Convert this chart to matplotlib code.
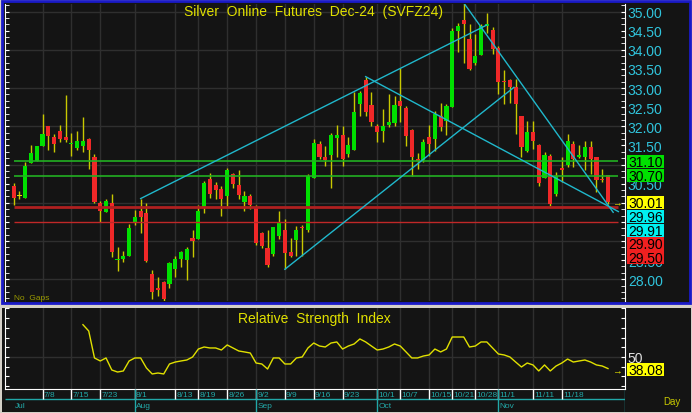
import matplotlib
matplotlib.use("Agg")
import matplotlib.pyplot as plt
from matplotlib.patches import Rectangle
from matplotlib.ticker import MultipleLocator
import numpy as np

plt.rcParams['font.family'] = ['Liberation Sans', 'DejaVu Sans']

W, H = 692, 414

# daily OHLC, Silver Dec-24
opens = [30.44, 30.18, 30.13, 31.04, 31.10, 31.48, 32.01, 31.73, 31.87, 31.71,
         31.53, 31.44, 31.48, 31.67, 31.21, 29.99, 29.75, 29.99, 28.49, 28.53,
         28.61, 29.50, 29.78, 29.73, 28.13, 27.78, 27.93, 27.87, 28.26, 28.53,
         28.50, 29.09, 29.05, 29.85, 30.62, 30.46, 30.36, 30.18, 30.75, 30.46,
         30.03, 30.18, 29.90, 29.21, 28.82, 28.66, 29.14, 29.30, 28.70, 29.02,
         29.37, 29.29, 30.64, 31.54, 31.21, 31.25, 31.70, 31.77, 31.28, 31.39,
         32.58, 33.21, 32.56, 32.02, 31.88, 32.03, 32.09, 32.66, 32.49, 31.90,
         31.14, 31.13, 31.71, 31.67, 32.28, 32.15, 32.50, 34.50, 34.78, 34.29,
         33.66, 33.87, 34.63, 34.52, 34.05, 33.19, 33.22, 33.02, 32.26, 31.36,
         31.86, 31.52, 30.65, 31.23, 30.23, 30.91, 30.99, 31.54, 31.21, 31.19,
         31.45, 31.21, 30.62, 30.73]
highs = [30.52, 30.31, 31.06, 31.51, 31.48, 32.32, 32.01, 31.80, 32.04, 32.82,
         31.82, 31.88, 32.24, 31.69, 31.27, 30.04, 30.10, 30.23, 28.83, 28.74,
         29.44, 29.82, 30.11, 29.99, 28.25, 28.05, 27.96, 28.45, 28.60, 28.74,
         28.83, 29.29, 29.95, 30.58, 30.77, 30.55, 30.44, 30.90, 30.78, 30.86,
         30.31, 30.24, 29.95, 29.24, 29.29, 29.36, 29.79, 29.57, 29.08, 29.40,
         29.42, 30.74, 31.67, 31.62, 31.49, 31.82, 32.03, 32.02, 31.73, 32.89,
         32.93, 33.30, 32.91, 32.05, 32.45, 32.85, 32.80, 33.53, 32.52, 31.93,
         31.30, 31.67, 32.03, 32.39, 32.61, 32.58, 34.57, 34.70, 35.23, 34.68,
         34.42, 34.68, 34.96, 34.61, 34.11, 33.48, 33.24, 33.24, 32.28, 32.13,
         32.13, 31.54, 31.32, 31.28, 30.81, 31.19, 31.80, 31.62, 31.51, 31.62,
         31.62, 31.21, 30.88, 30.73]
lows = [29.95, 30.10, 30.13, 31.04, 31.10, 31.48, 31.39, 31.33, 31.58, 31.58,
        31.23, 31.39, 31.32, 30.88, 29.99, 29.49, 29.75, 28.57, 28.22, 28.44,
        28.61, 29.42, 29.20, 28.44, 27.48, 27.57, 27.40, 27.78, 28.07, 28.31,
        27.98, 28.57, 29.05, 29.72, 30.12, 30.10, 29.66, 29.92, 30.38, 30.10,
        29.79, 29.84, 28.89, 28.81, 28.31, 28.61, 29.05, 28.26, 28.57, 28.61,
        28.61, 29.24, 30.64, 31.14, 30.97, 30.38, 31.19, 30.97, 31.19, 31.39,
        32.26, 32.26, 32.02, 31.58, 31.58, 31.97, 32.00, 32.10, 31.49, 30.71,
        30.88, 31.06, 31.23, 31.36, 31.88, 31.77, 32.50, 33.94, 33.66, 33.48,
        33.60, 33.87, 34.44, 33.89, 32.85, 32.59, 32.61, 31.80, 31.19, 31.32,
        31.41, 30.43, 30.65, 29.92, 30.18, 30.55, 30.93, 30.93, 31.16, 30.86,
        30.75, 30.27, 30.55, 29.96]
closes = [30.13, 30.18, 30.97, 31.30, 31.48, 31.79, 31.75, 31.54, 31.67, 31.64,
          31.54, 31.62, 31.62, 31.39, 30.03, 29.79, 30.04, 28.70, 28.53, 28.60,
          29.35, 29.63, 29.63, 28.48, 27.67, 27.72, 27.47, 28.42, 28.53, 28.72,
          28.79, 29.01, 29.78, 30.51, 30.23, 30.34, 30.10, 30.86, 30.49, 30.20,
          30.18, 29.95, 28.94, 28.86, 28.37, 29.36, 29.46, 28.68, 28.61, 29.29,
          29.33, 30.71, 31.56, 31.19, 31.13, 31.77, 31.77, 31.14, 31.51, 32.37,
          32.86, 32.37, 32.10, 31.84, 32.02, 32.10, 32.56, 32.52, 31.75, 31.19,
          31.10, 31.58, 31.54, 32.32, 31.97, 32.52, 34.50, 34.62, 34.68, 33.50,
          33.83, 34.62, 34.68, 34.01, 33.17, 33.15, 33.02, 32.58, 31.45, 31.86,
          31.61, 30.53, 31.26, 29.97, 30.69, 30.86, 31.62, 31.14, 31.26, 31.47,
          31.14, 30.60, 30.60, 30.01]

# RSI(14), first value drawn at bar 12
rsi_start = 12
rsi = [83.3, 76.8, 49.0, 45.9, 49.0, 36.6, 34.5, 35.6, 45.9, 49.0,
       49.0, 38.7, 32.5, 33.5, 32.5, 42.8, 44.8, 45.9, 46.9, 50.0,
       58.2, 60.3, 59.3, 59.3, 57.2, 62.4, 59.3, 56.2, 55.2, 54.1,
       43.8, 42.8, 37.6, 49.0, 49.0, 42.8, 42.8, 49.0, 50.0, 59.3,
       64.4, 61.3, 60.3, 64.4, 65.5, 58.2, 61.3, 63.4, 68.6, 65.5,
       61.3, 57.2, 58.2, 60.3, 63.4, 61.3, 55.2, 49.0, 49.0, 51.0,
       52.1, 58.2, 55.2, 58.2, 70.6, 70.6, 70.6, 60.3, 61.3, 65.5,
       65.5, 59.3, 53.1, 52.1, 50.0, 44.8, 39.7, 43.8, 41.8, 35.6,
       41.8, 35.6, 40.7, 43.8, 47.9, 44.8, 45.9, 46.9, 44.8, 41.8,
       40.7, 38.08]

tick_idx = [5, 10, 15, 21, 28, 32, 37, 42, 47, 52, 57, 63, 67, 72, 76, 80, 84, 90, 95]
tick_lbl = ['7/8', '7/15', '7/23', '8/1', '8/13', '8/19', '8/26', '9/2', '9/9', '9/16',
            '9/23', '10/1', '10/7', '10/15', '10/21', '10/28', '11/1', '11/11', '11/18']
month_idx = [0, 21, 42, 63, 84]
month_lbl = ['Jul', 'Aug', 'Sep', 'Oct', 'Nov']

green_levels = [31.10, 30.70]
red_levels = [29.90, 29.50]
trend_lines = [((22, 30.11), (82, 34.65)),
               ((47, 28.26), (86.7, 33.02)),
               ((61, 33.30), (104.8, 29.77)),
               ((78, 35.23), (103.9, 29.75))]
trend_last = [29.96, 29.91]
# axis labels hidden behind the value boxes
hidden = [31.0, 30.0, 29.5, 29.0]

BG = '#141414'
GRID = '#2f2f2f'
UP = '#00e000'
DN = '#f02828'
WICK = '#c8c800'
YEL = '#e0e000'
CYAN = '#30c4dc'
TLINE = '#20b8cc'
TEAL = '#22a8a8'


def box(l, t, r, b):
    return [l / W, 1 - b / H, (r - l) / W, (b - t) / H]


def fy(y):
    return 1 - y / H


def value_box(txt, yc, fc, h=13.5):
    fig.add_artist(Rectangle((627 / W, fy(yc + h / 2)), 37 / W, h / H,
                             transform=fig.transFigure, facecolor=fc, edgecolor='none',
                             zorder=9))
    fig.text(628 / W, fy(yc + 0.5), txt, color='black', fontsize=10, ha='left',
             va='center', zorder=10)


fig = plt.figure(figsize=(W / 100, H / 100), dpi=100, facecolor='#d4d0c8')

# panel backgrounds
fig.add_artist(Rectangle((2 / W, fy(304)), 688 / W, 302 / H, transform=fig.transFigure,
                         facecolor=BG, edgecolor='#1a1ac8', lw=2, zorder=0))
fig.add_artist(Rectangle((2 / W, fy(413)), 689 / W, 104 / H, transform=fig.transFigure,
                         facecolor=BG, edgecolor='none', zorder=0))

n = len(closes)
x = np.arange(n)
xlim = (-1.51, 105.95)

# ---------------- price panel ----------------
ax = fig.add_axes(box(5, 5, 625, 302))
ax.set_facecolor(BG)
ax.set_xlim(*xlim)
ax.set_ylim(27.43, 35.20)

for v in range(28, 36):
    ax.axhline(v, color=GRID, lw=1, zorder=0)
for i in tick_idx:
    ax.axvline(i, color=GRID, lw=1, zorder=0)

o = np.array(opens)
c = np.array(closes)
cols = np.where(c > o, UP, np.where(c < o, DN, YEL))
bottom = np.minimum(o, c)
height = np.maximum(np.abs(c - o), 0.03)
ax.vlines(x, lows, highs, color=WICK, lw=1, zorder=2)
ax.bar(x, height, bottom=bottom, width=0.72, color=cols, zorder=3, lw=0)

for v in green_levels:
    ax.hlines(v, 0, 104.7, color='#22b022', lw=1.2, zorder=4)
ax.hlines(red_levels[0], 0, 104.7, color='#b02020', lw=2, zorder=4)
ax.hlines(red_levels[1], 0, 104.7, color='#c02828', lw=1, zorder=4)

for (x0, y0), (x1, y1) in trend_lines:
    ax.plot([x0, x1], [y0, y1], color=TLINE, lw=1, zorder=5)

for s in ['top', 'bottom']:
    ax.spines[s].set_visible(False)
for s in ['left', 'right']:
    ax.spines[s].set_color('white')
ax.set_xticks([])
yt = np.arange(28, 35.01, 0.5)
ax.set_yticks(yt)
ax.set_yticklabels(['' if round(v, 2) in hidden else f'{v:.2f}' for v in yt])
ax.yaxis.set_minor_locator(MultipleLocator(0.5 / 3))
ax.tick_params(axis='y', which='both', direction='in', color='white', length=3,
               left=True, right=True, labelleft=False, labelright=True,
               labelcolor=CYAN, labelsize=10, pad=2)

fig.text(314 / W, fy(12), 'Silver  Online  Futures  Dec-24  (SVFZ24)',
         color=YEL, fontsize=10, ha='center', va='center')
fig.text(14 / W, fy(299), 'No  Gaps', color='#9a9a00', fontsize=6, ha='left', va='center')

# right-hand value boxes
value_box(f'{green_levels[0]:.2f}', 162.5, '#00e000')
value_box(f'{green_levels[1]:.2f}', 176.3, '#00e000')
value_box(f'{closes[-1]:.2f}', 203.7, '#ffff00')
value_box(f'{trend_last[0]:.2f}', 217.6, '#00f0f0')
value_box(f'{trend_last[1]:.2f}', 231.3, '#00f0f0')
value_box(f'{red_levels[0]:.2f}', 245.0, '#f02020')
value_box(f'{red_levels[1]:.2f}', 258.5, '#f02020')
fig.text(617 / W, fy(203), '→', color=YEL, fontsize=7, ha='center', va='center')

# ---------------- RSI panel ----------------
ar = fig.add_axes(box(5, 309, 625, 390))
ar.set_facecolor(BG)
ar.set_xlim(*xlim)
ar.set_ylim(17.0, 100.5)
ar.axhline(50, color=GRID, lw=1, zorder=0)
for i in tick_idx:
    ar.axvline(i, color=GRID, lw=1, zorder=0)
ar.plot(np.arange(rsi_start, rsi_start + len(rsi)), rsi, color=YEL, lw=1)
ar.spines['top'].set_visible(False)
for s in ['left', 'right', 'bottom']:
    ar.spines[s].set_color('white')
ar.set_xticks([])
ar.set_yticks(range(20, 101, 10))
ar.set_yticklabels(['50' if v == 50 else '' for v in range(20, 101, 10)])
ar.tick_params(axis='y', direction='in', color='white', length=3, left=True, right=True,
               labelleft=False, labelright=True, labelcolor='#e0e0e0', labelsize=10, pad=2)
fig.text(314 / W, fy(319), 'Relative  Strength  Index', color=YEL, fontsize=10,
         ha='center', va='center')
value_box(f'{rsi[-1]:.2f}', 370.5, '#ffff00')
fig.text(617 / W, fy(371), '→', color=YEL, fontsize=7, ha='center', va='center')

# ---------------- date strip ----------------
ad = fig.add_axes(box(5, 390, 625, 413))
ad.set_facecolor(BG)
ad.set_xlim(*xlim)
ad.set_ylim(413, 390)
ad.axis('off')
ad.hlines(400, xlim[0], xlim[1], color=TEAL, lw=1)
ad.vlines(xlim[1] - 0.05, 390, 413, color=TEAL, lw=1)
for i, t in zip(tick_idx, tick_lbl):
    ad.vlines(i, 390, 400, color='white', lw=1)
    ad.text(i + 0.2, 395.5, t, color=TEAL, fontsize=6, ha='left', va='center')
for i, t in zip(month_idx, month_lbl):
    if i > 0:
        ad.vlines(i, 390, 413, color=TEAL, lw=1)
    ad.text(i + 0.2, 406.5, t, color=TEAL, fontsize=6, ha='left', va='center')
fig.text(663 / W, fy(402), 'Day', color='#c8c800', fontsize=7, ha='left', va='center')

fig.savefig('out.png', dpi=100, facecolor=fig.get_facecolor())
